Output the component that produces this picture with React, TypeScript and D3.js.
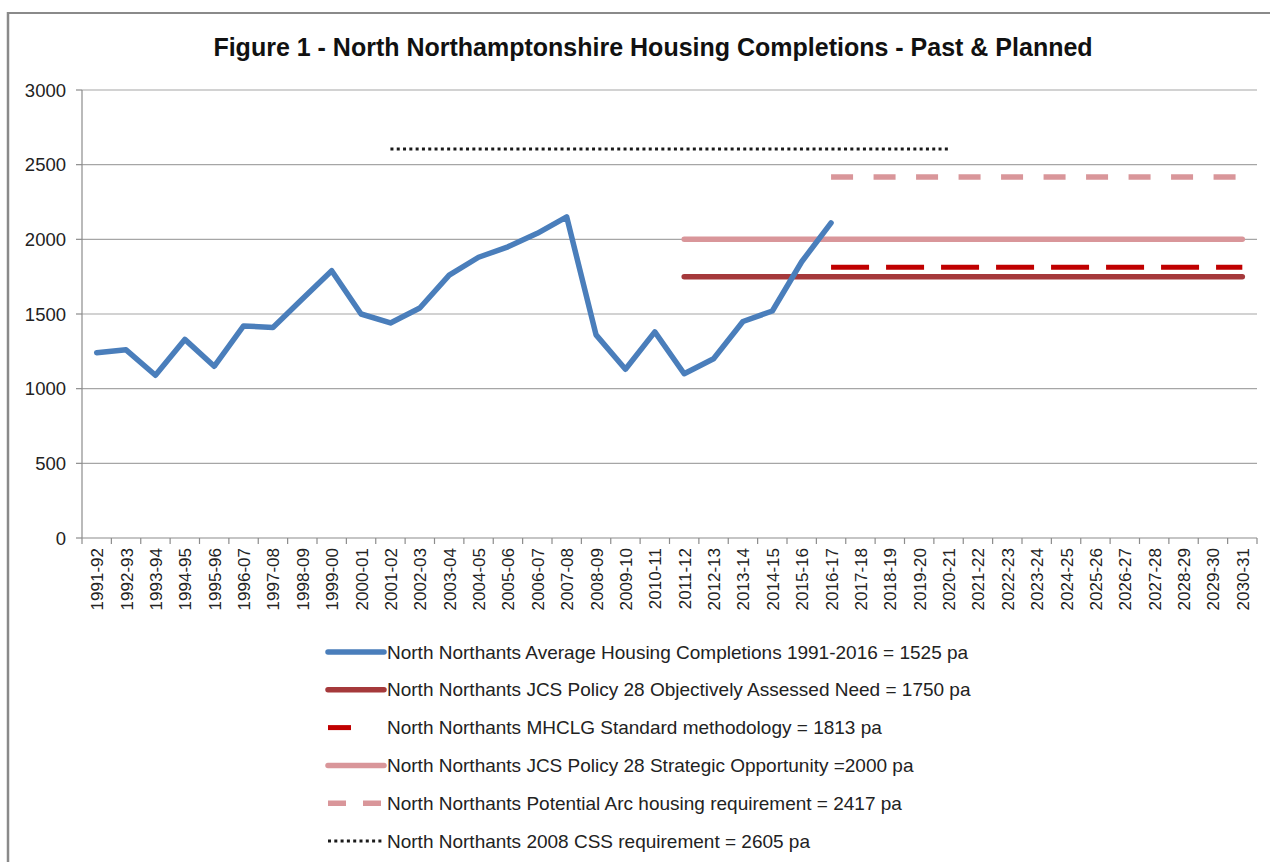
import React from "react";
import * as d3 from "d3";

const categories = [
  "1991-92","1992-93","1993-94","1994-95","1995-96","1996-07","1997-08","1998-09","1999-00","2000-01",
  "2001-02","2002-03","2003-04","2004-05","2005-06","2006-07","2007-08","2008-09","2009-10","2010-11",
  "2011-12","2012-13","2013-14","2014-15","2015-16","2016-17","2017-18","2018-19","2019-20","2020-21",
  "2021-22","2022-23","2023-24","2024-25","2025-26","2026-27","2027-28","2028-29","2029-30","2030-31",
];

const completions = [
  1240, 1260, 1090, 1330, 1150, 1420, 1410, 1600, 1790, 1500,
  1440, 1540, 1760, 1880, 1950, 2040, 2150, 1360, 1130, 1380,
  1100, 1200, 1450, 1520, 1850, 2110,
];

const yTicks = [0, 500, 1000, 1500, 2000, 2500, 3000];

// reference lines: value, first and last category
const refNames = [
  "North Northants JCS Policy 28 Objectively Assessed Need = 1750 pa",
  "North Northants MHCLG Standard methodology = 1813 pa",
  "North Northants JCS Policy 28 Strategic Opportunity =2000 pa",
  "North Northants Potential Arc housing requirement = 2417 pa",
  "North Northants 2008 CSS requirement = 2605 pa",
];
const refValues = [1750, 1813, 2000, 2417, 2605];
const refStart = ["2011-12", "2016-17", "2011-12", "2016-17", "2001-02"];
const refEnd = ["2030-31", "2030-31", "2030-31", "2030-31", "2020-21"];

const completionsName = "North Northants Average Housing Completions 1991-2016 = 1525 pa";
const title = "Figure 1 - North Northamptonshire Housing Completions - Past & Planned";

const W = 1270;
const H = 862;
const left = 82;
const right = 1257;
const top = 90;
const bottom = 538;

const FONT = "'Liberation Sans', Arial, sans-serif";

type Style = { color: string; width: number; dash?: string; cap: string; legendDash?: string };
const refStyles: Style[] = [
  { color: "#a5393b", width: 5.5, cap: "round" },
  { color: "#c00000", width: 5, dash: "38 17", cap: "butt", legendDash: "23 60" },
  { color: "#d9969a", width: 5.5, cap: "round" },
  { color: "#d9969a", width: 5.5, dash: "22 20.5", cap: "butt", legendDash: "18 17" },
  { color: "#1a1a1a", width: 3, dash: "3 3.3", cap: "butt", legendDash: "3 3.3" },
];
const blueStyle: Style = { color: "#4a7ebb", width: 5.5, cap: "round" };

export default function App() {
  const x = d3.scaleBand<string>().domain(categories).range([left, right]);
  const cx = (c: string) => (x(c) as number) + x.bandwidth() / 2;
  const y = d3.scaleLinear().domain([0, 3000]).range([bottom, top]);

  const line = d3
    .line<number>()
    .x((_, i) => cx(categories[i]))
    .y((d) => y(d));

  const refLine = d3
    .line<[string, number]>()
    .x((d) => cx(d[0]))
    .y((d) => y(d[1]));

  const legendItems = [
    { name: completionsName, style: blueStyle },
    ...refNames.map((n, i) => ({ name: n, style: refStyles[i] })),
  ];
  const legendY = d3.scalePoint<number>().domain(d3.range(legendItems.length)).range([652, 841]);

  return (
    <svg
      width={W}
      height={H}
      style={{ position: "absolute", left: 0, top: 0, background: "#fff" }}
      fontFamily={FONT}
    >
      <rect x={0} y={0} width={W} height={H} fill="#fff" />
      {/* outer chart border */}
      <line x1={8} y1={13} x2={W} y2={13} stroke="#8a8a8a" strokeWidth={2} />
      <line x1={8} y1={12} x2={8} y2={H} stroke="#8a8a8a" strokeWidth={2.5} />

      <text x={653} y={56} textAnchor="middle" fontSize={25} fontWeight="bold" fill="#111">
        {title}
      </text>

      {/* gridlines */}
      {yTicks.filter((t) => t > 0).map((t) => (
        <line key={t} x1={left} x2={right} y1={y(t)} y2={y(t)} stroke="#a6a6a6" strokeWidth={1.2} />
      ))}
      {/* y axis */}
      <line x1={left} x2={left} y1={top} y2={bottom} stroke="#8c8c8c" strokeWidth={1.2} />
      {yTicks.map((t) => (
        <g key={t}>
          <line x1={left - 6} x2={left} y1={y(t)} y2={y(t)} stroke="#8c8c8c" strokeWidth={1.2} />
          <text x={66} y={y(t) + 6.5} textAnchor="end" fontSize={18.5} fill="#222">
            {t}
          </text>
        </g>
      ))}
      {/* x axis */}
      <line x1={left} x2={right} y1={bottom} y2={bottom} stroke="#8c8c8c" strokeWidth={1.2} />
      {categories.map((c) => (
        <line
          key={"t" + c}
          x1={x(c) as number}
          x2={x(c) as number}
          y1={bottom}
          y2={bottom + 6}
          stroke="#8c8c8c"
          strokeWidth={1.2}
        />
      ))}
      <line x1={right} x2={right} y1={bottom} y2={bottom + 6} stroke="#8c8c8c" strokeWidth={1.2} />
      {categories.map((c) => (
        <text
          key={"l" + c}
          transform={`translate(${cx(c) + 6.5},${bottom + 10}) rotate(-90)`}
          textAnchor="end"
          fontSize={17}
          fill="#222"
        >
          {c}
        </text>
      ))}

      {/* reference lines */}
      {refValues.map((v, i) => (
        <path
          key={"r" + i}
          d={refLine([
            [refStart[i], v],
            [refEnd[i], v],
          ]) as string}
          fill="none"
          stroke={refStyles[i].color}
          strokeWidth={refStyles[i].width}
          strokeDasharray={refStyles[i].dash}
          strokeLinecap={refStyles[i].cap as any}
        />
      ))}

      {/* completions */}
      <path
        d={line(completions) as string}
        fill="none"
        stroke={blueStyle.color}
        strokeWidth={blueStyle.width}
        strokeLinejoin="round"
        strokeLinecap="round"
      />

      {/* legend */}
      {legendItems.map((it, i) => {
        const ly = legendY(i) as number;
        return (
          <g key={"lg" + i}>
            <line
              x1={328}
              x2={384}
              y1={ly}
              y2={ly}
              stroke={it.style.color}
              strokeWidth={it.style.width}
              strokeDasharray={it.style.legendDash}
              strokeLinecap={it.style.dash ? "butt" : "round"}
            />
            <text x={387} y={ly + 6.5} fontSize={19} fill="#222">
              {it.name}
            </text>
          </g>
        );
      })}
    </svg>
  );
}
